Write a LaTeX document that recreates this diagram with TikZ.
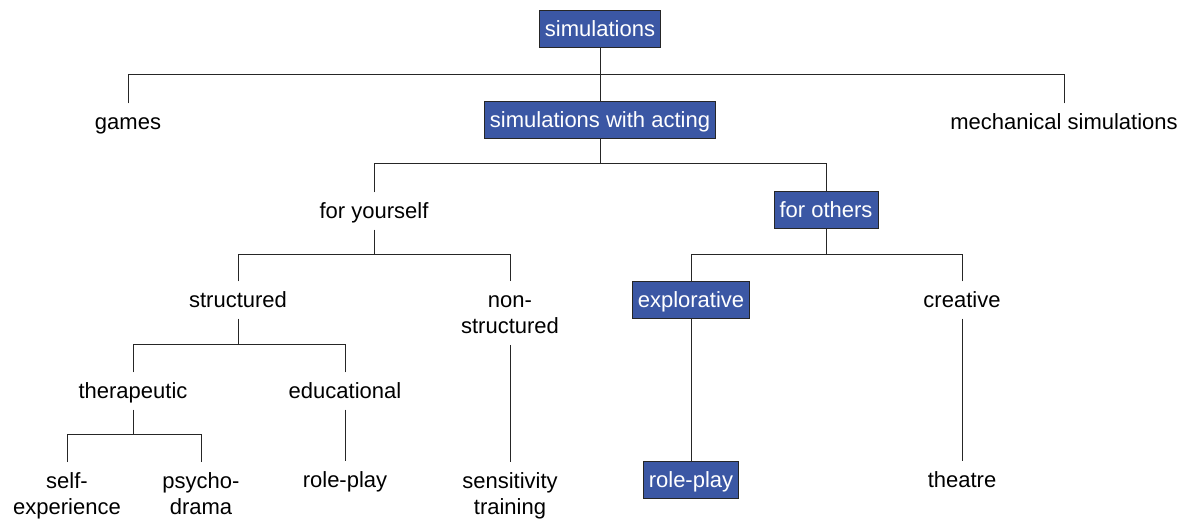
\documentclass[tikz,border=0pt]{standalone}
\usepackage{fontspec}
\setmainfont{Liberation Sans}
\newcommand\mystrut{\vrule height 18pt depth 3pt width 0pt}
\definecolor{boxblue}{RGB}{59,87,164}
\begin{document}
\begin{tikzpicture}[x=1pt,y=-1pt,
  every node/.style={font=\fontsize{22}{26.5}\selectfont, inner xsep=5.5pt, inner ysep=8pt},
  lbl/.style={text height=18pt, text depth=3pt},
  lbltwo/.style={align=center},
  hl/.style={lbl, fill=boxblue, draw=black!85, line width=0.9pt, text=white},
  link/.style={line width=1pt, draw=black!85}]
\useasboundingbox (0,0) rectangle (1184,520);

% level 0 and 1
\node[hl]  (sim)   at (600,29)  {simulations};
\node[lbl] (games) at (128,122) {games};
\node[hl]  (swa)   at (600,120) {simulations with acting};
\node[lbl] (mech)  at (1064,122) {mechanical simulations};

% level 2
\node[lbl] (fy) at (374,211) {for yourself};
\node[hl]  (fo) at (826,210) {for others};

% level 3
\node[lbl]    (str)  at (238,300) {structured};
\node[lbltwo, anchor=north] (nstr) at (510,281) {\mystrut non-\\structured\mystrut};
\node[hl]     (expl) at (691,300) {explorative};
\node[lbl]    (crea) at (962,300) {creative};

% level 4
\node[lbl] (ther) at (133,391) {therapeutic};
\node[lbl] (edu)  at (345,391) {educational};

% leaves
\node[lbltwo, anchor=north] (self)  at (67,462)  {\mystrut self-\\experience\mystrut};
\node[lbltwo, anchor=north] (psy)   at (201,462) {\mystrut psycho-\\drama\mystrut};
\node[lbl] (rp1)  at (345,480) {role-play};
\node[lbltwo, anchor=north] (sens)  at (510,462) {\mystrut sensitivity\\training\mystrut};
\node[hl]  (rp2)  at (691,480) {role-play};
\node[lbl] (thea) at (962,480) {theatre};

% bars of the tree
\coordinate (b0) at (600,74);
\coordinate (b1) at (600,163);
\coordinate (b2) at (374,254);
\coordinate (b3) at (826,254);
\coordinate (b4) at (238,344);
\coordinate (b5) at (133,434);

\begin{scope}[link]
  \draw (sim.south) -- (b0);
  \draw (games.north) |- (b0);
  \draw (mech.north) |- (b0);
  \draw (swa.north) -- (b0);

  \draw (swa.south) -- (b1);
  \draw (fy.north) |- (b1);
  \draw (fo.north) |- (b1);

  \draw (fy.south) -- (b2);
  \draw (str.north) |- (b2);
  \draw (nstr.north) |- (b2);

  \draw (fo.south) -- (b3);
  \draw (expl.north) |- (b3);
  \draw (crea.north) |- (b3);

  \draw (str.south) -- (b4);
  \draw (ther.north) |- (b4);
  \draw (edu.north) |- (b4);

  \draw (ther.south) -- (b5);
  \draw (self.north) |- (b5);
  \draw (psy.north) |- (b5);

  \draw (edu.south) -- (rp1.north);
  \draw (nstr.south) -- (sens.north);
  \draw (expl.south) -- (rp2.north);
  \draw (crea.south) -- (thea.north);
\end{scope}
\end{tikzpicture}
\end{document}
